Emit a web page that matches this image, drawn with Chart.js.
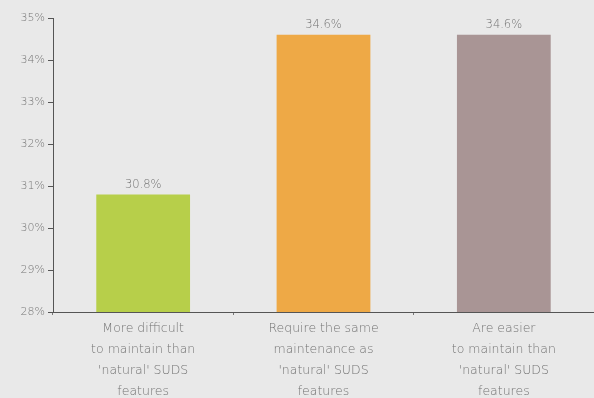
<!DOCTYPE html>
<html>
<head>
<meta charset="utf-8">
<script src="https://cdn.jsdelivr.net/npm/chart.js@4.4.1/dist/chart.umd.min.js"></script>
<style>
  html, body { margin: 0; padding: 0; background: #e9e9e9; }
  #wrap { width: 594px; height: 398px; }
</style>
</head>
<body>
<div id="wrap"><canvas id="c" width="594" height="398"></canvas></div>
<script>
const categories = [
  ["More difficult", "to maintain than", "'natural' SUDS", "features"],
  ["Require the same", "maintenance as", "'natural' SUDS", "features"],
  ["Are easier", "to maintain than", "'natural' SUDS", "features"]
];
const values = [30.8, 34.6, 34.6];
const barColors = ["#b7cf4a", "#eea946", "#a99595"];
const yTicks = [28, 29, 30, 31, 32, 33, 34, 35];

const textColor = "#747474";
const fontFamily = "'DejaVu Sans', sans-serif";

// Percentage labels printed above each bar
const valueLabels = {
  id: "valueLabels",
  afterDatasetsDraw(chart) {
    const ctx = chart.ctx;
    const meta = chart.getDatasetMeta(0);
    ctx.save();
    ctx.font = "200 11.5px " + fontFamily;
    ctx.fillStyle = textColor;
    ctx.textAlign = "center";
    ctx.textBaseline = "bottom";
    meta.data.forEach((bar, i) => {
      ctx.fillText(values[i].toFixed(1) + "%", bar.x, bar.y - 4);
    });
    ctx.restore();
  }
};

new Chart(document.getElementById("c"), {
  type: "bar",
  data: {
    labels: categories,
    datasets: [{
      data: values,
      backgroundColor: barColors,
      borderWidth: 0,
      categoryPercentage: 1,
      barPercentage: 0.52
    }]
  },
  options: {
    responsive: false,
    animation: false,
    layout: { padding: { top: 18, right: 0, bottom: 0, left: 0 } },
    plugins: { legend: { display: false }, tooltip: { enabled: false } },
    scales: {
      y: {
        min: 28,
        max: 35,
        afterBuildTicks(axis) { axis.ticks = yTicks.map(v => ({ value: v })); },
        afterFit(axis) { axis.width = 53; },
        border: { color: "#555", width: 1 },
        grid: { drawOnChartArea: false, tickLength: 5, color: "#555" },
        ticks: {
          padding: 3,
          color: textColor,
          font: { family: fontFamily, size: 11, weight: 200 },
          callback: v => v + "%"
        }
      },
      x: {
        afterFit(axis) { axis.height = 86; },
        border: { color: "#555", width: 1 },
        grid: { offset: true, drawOnChartArea: false, tickLength: 3, color: "#777" },
        ticks: {
          padding: 3,
          maxRotation: 0,
          autoSkip: false,
          color: textColor,
          font: { family: fontFamily, size: 12.5, weight: 200, lineHeight: 1.68 }
        }
      }
    }
  },
  plugins: [valueLabels]
});
</script>
</body>
</html>
